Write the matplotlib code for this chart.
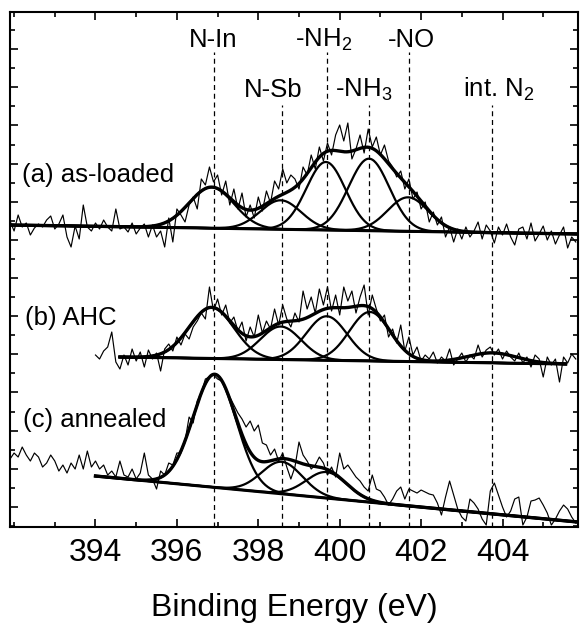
import numpy as np
import matplotlib.pyplot as plt
from matplotlib.ticker import FixedLocator

plt.rcParams['font.family'] = ['Liberation Sans', 'DejaVu Sans']
plt.rcParams['mathtext.default'] = 'regular'

# measured N 1s spectra (arbitrary units, stacked)
energy_a = np.linspace(391.9, 405.8, 140)
counts_a = [306, 296, 312, 300, 304, 292, 299,
            303, 300, 307, 311, 298, 303, 312,
            290, 280, 301, 288, 322, 300, 296,
            304, 298, 307, 300, 296, 318, 298,
            300, 295, 304, 293, 299, 303, 290,
            302, 290, 296, 280, 309, 285, 318,
            312, 305, 322, 330, 318, 348, 342,
            360, 345, 352, 332, 346, 322, 338,
            318, 334, 310, 322, 309, 330, 316,
            336, 324, 346, 338, 358, 344, 352,
            348, 338, 360, 352, 372, 358, 380,
            366, 384, 372, 392, 402, 386, 404,
            368, 378, 392, 374, 398, 380, 390,
            372, 382, 366, 360, 350, 356, 338,
            348, 328, 335, 318, 325, 305, 315,
            302, 310, 290, 300, 285, 298, 288,
            300, 290, 296, 305, 288, 302, 296,
            284, 300, 292, 303, 290, 282, 298,
            300, 288, 304, 286, 293, 301, 287,
            296, 283, 292, 300, 279, 290, 285]

energy_b = np.linspace(394.0, 405.8, 119)
counts_b = [172, 168, 176, 180, 195, 165, 158,
            172, 162, 178, 166, 175, 160, 177,
            168, 174, 156, 178, 183, 176, 190,
            182, 193, 188, 200, 206, 214, 208,
            240, 216, 228, 212, 222, 204, 210,
            196, 205, 186, 200, 190, 212, 194,
            206, 198, 218, 202, 222, 208, 200,
            214, 205, 236, 218, 230, 214, 238,
            222, 240, 216, 232, 212, 240, 226,
            236, 214, 230, 242, 212, 232, 218,
            206, 212, 190, 198, 184, 202, 176,
            190, 172, 180, 166, 172, 168, 175,
            164, 170, 166, 178, 162, 168, 174,
            165, 172, 168, 182, 170, 177, 180,
            172, 178, 168, 176, 170, 166, 174,
            164, 170, 160, 172, 168, 150, 170,
            162, 168, 145, 170, 164, 173, 168]

energy_c = np.linspace(391.9, 405.8, 140)
counts_c = [68, 74, 70, 80, 72, 66, 74,
            70, 60, 64, 72, 66, 56, 62,
            54, 64, 58, 72, 58, 76, 60,
            66, 58, 62, 52, 56, 50, 66,
            52, 50, 58, 48, 54, 74, 52,
            48, 38, 56, 52, 64, 62, 74,
            74, 86, 110, 104, 126, 134, 148,
            150, 152, 148, 146, 138, 130, 122,
            114, 108, 100, 106, 96, 102, 84,
            82, 72, 78, 66, 74, 60, 48,
            60, 85, 72, 66, 58, 62, 70,
            64, 52, 60, 50, 74, 58, 62,
            56, 50, 46, 40, 36, 52, 38,
            36, 30, 22, 28, 36, 40, 28,
            38, 36, 34, 37, 35, 33, 32,
            24, 12, 30, 46, 32, 18, 10,
            6, 28, 24, 18, 8, 2, 36,
            44, 32, 20, 10, 16, 28, 30,
            2, 10, 26, 27, 29, 22, 14,
            2, 8, 16, 22, 18, 10, 4]

# fitted gaussian components: centre (eV), height, sigma (eV)
peaks_a_center = [396.85, 398.55, 399.66, 400.72, 401.68]
peaks_a_height = [41, 29, 68, 72, 34]
peaks_a_sigma = [0.55, 0.5, 0.48, 0.5, 0.5]
bg_a_x, bg_a_y = [391.9, 405.85], [302, 293]

peaks_b_center = [396.85, 398.55, 399.68, 400.74, 403.75]
peaks_b_height = [51, 33, 44, 49, 10]
peaks_b_sigma = [0.55, 0.5, 0.5, 0.5, 0.6]
bg_b_x, bg_b_y = [394.6, 405.55], [170, 163]

peaks_c_center = [396.93, 398.58, 399.68]
peaks_c_height = [113, 32, 26]
peaks_c_sigma = [0.53, 0.5, 0.5]
bg_c_x, bg_c_y = [394.0, 405.85], [51, 5]

# peak assignments
peak_labels = ['N-In', 'N-Sb', '-NH$_2$', '-NH$_3$', '-NO', 'int. N$_2$']
label_x = [396.9, 398.36, 399.6, 400.6, 401.77, 403.9]
label_y = [480, 430, 480, 430, 480, 430]
marker_x = [396.9, 398.58, 399.68, 400.72, 401.7, 403.75]
marker_top = [475, 422, 475, 422, 475, 422]

spectrum_names = ['(a) as-loaded', '(b) AHC', '(c) annealed']
name_x = [392.2, 392.27, 392.22]
name_y = [345, 202, 100]

x_ticks = [394, 396, 398, 400, 402, 404]
x_minor = [392, 393, 395, 397, 399, 401, 403, 405]


def gauss(x, c, h, s):
    return h * np.exp(-0.5 * ((x - c) / s) ** 2)


fig = plt.figure(figsize=(5.82, 6.24), dpi=100)
ax = fig.add_axes([0.0172, 0.1554, 0.9756, 0.8254])

for xm, top in zip(marker_x, marker_top):
    ax.plot([xm, xm], [0, top], color='black', lw=0.9, ls=(0, (4, 3)))

spectra = [
    (energy_a, counts_a, bg_a_x, bg_a_y, peaks_a_center, peaks_a_height, peaks_a_sigma),
    (energy_b, counts_b, bg_b_x, bg_b_y, peaks_b_center, peaks_b_height, peaks_b_sigma),
    (energy_c, counts_c, bg_c_x, bg_c_y, peaks_c_center, peaks_c_height, peaks_c_sigma),
]

for e, cts, bx, by, pc, ph, ps in spectra:
    ax.plot(e, cts, color='black', lw=0.85)
    xf = np.linspace(bx[0], bx[1], 600)
    base = np.interp(xf, bx, by)
    total = base.copy()
    for c, h, s in zip(pc, ph, ps):
        comp = gauss(xf, c, h, s)
        total += comp
        ax.plot(xf, base + comp, color='black', lw=1.6)
    ax.plot(xf, base, color='black', lw=2.2)
    ax.plot(xf, total, color='black', lw=2.4)

for lab, x, y in zip(peak_labels, label_x, label_y):
    ax.text(x, y, lab, ha='center', va='baseline', fontsize=18.5)

for name, x, y in zip(spectrum_names, name_x, name_y):
    ax.text(x, y, name, ha='left', va='baseline', fontsize=18.5)

ax.set_xlim(391.9, 405.85)
ax.set_ylim(0, 515)
ax.xaxis.set_major_locator(FixedLocator(x_ticks))
ax.xaxis.set_minor_locator(FixedLocator(x_minor))
ax.yaxis.set_major_locator(FixedLocator(np.arange(20.1, 515, 38.14)))
ax.yaxis.set_minor_locator(FixedLocator(np.arange(1.0, 515, 38.14)))
ax.tick_params(which='both', direction='in', top=True, right=True,
               labelleft=False, width=1.2)
ax.tick_params(which='major', length=6)
ax.tick_params(which='minor', length=3.5)
ax.tick_params(axis='x', labelsize=23, pad=8)
for sp in ax.spines.values():
    sp.set_linewidth(1.5)

ax.set_xlabel('Binding Energy (eV)', fontsize=23, labelpad=18)

fig.savefig('out.png', dpi=100)
